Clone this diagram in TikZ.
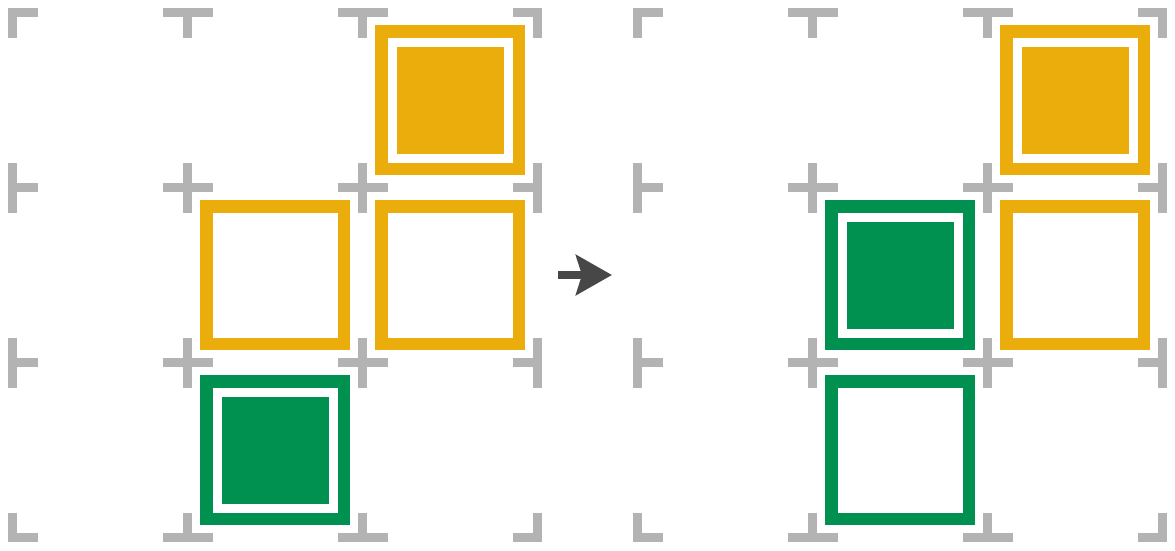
\documentclass[tikz,border=0pt]{standalone}
\usetikzlibrary{arrows.meta}
\definecolor{gmark}{HTML}{B3B3B3}
\definecolor{ora}{HTML}{EBAD0C}
\definecolor{grn}{HTML}{009050}
\definecolor{arr}{HTML}{474747}
\tikzset{
  gridmark/.style={draw=gmark,line width=8.75pt,line cap=butt},
  cellbox/.style={draw=#1,line width=12.5pt,minimum size=137.5pt,inner sep=0pt,fill=white},
  cellfill/.style={fill=#1,minimum size=108pt,inner sep=0pt,draw=white,line width=0.6pt},
  movearrow/.style={draw=arr,line width=8pt,-{Stealth[length=36pt,width=40pt,inset=6pt]}}
}
\begin{document}
\begin{tikzpicture}[x=1pt,y=-1pt]
\useasboundingbox (0,0) rectangle (1175,550);
% grid marks
\foreach \ox in {0,625}{
  \foreach \i in {0,...,3}{
    \foreach \j in {0,...,3}{
      \pgfmathsetmacro\cx{\ox+12.5+175*\i}
      \pgfmathsetmacro\cy{12.5+175*\j}
      \pgfmathsetmacro\ll{ifthenelse(\i==0,4.375,25)}
      \pgfmathsetmacro\rr{ifthenelse(\i==3,4.375,25)}
      \pgfmathsetmacro\uu{ifthenelse(\j==0,4.375,25)}
      \pgfmathsetmacro\dd{ifthenelse(\j==3,4.375,25)}
      \path[gridmark] (\cx-\ll,\cy) -- (\cx+\rr,\cy);
      \path[gridmark] (\cx,\cy-\uu) -- (\cx,\cy+\dd);
    }
  }
}
% left grid
\node[cellbox=ora] (L1) at (450,100) {};
\node[cellfill=ora] (L1in) at (L1) {};
\node[cellbox=ora] (L2) at (275,275) {};
\node[cellbox=ora] (L3) at (450,275) {};
\node[cellbox=grn] (L4) at (275,450) {};
\node[cellfill=grn] (L4in) at (L4) {};
% right grid
\node[cellbox=ora] (R1) at (1075,100) {};
\node[cellfill=ora] (R1in) at (R1) {};
\node[cellbox=grn] (R2) at (900,275) {};
\node[cellfill=grn] (R2in) at (R2) {};
\node[cellbox=ora] (R3) at (1075,275) {};
\node[cellbox=grn] (R4) at (900,450) {};
% arrow
\coordinate (as) at (558,275);
\coordinate (ae) at (612,275);
\draw[movearrow] (as) -- (ae);
\end{tikzpicture}
\end{document}
